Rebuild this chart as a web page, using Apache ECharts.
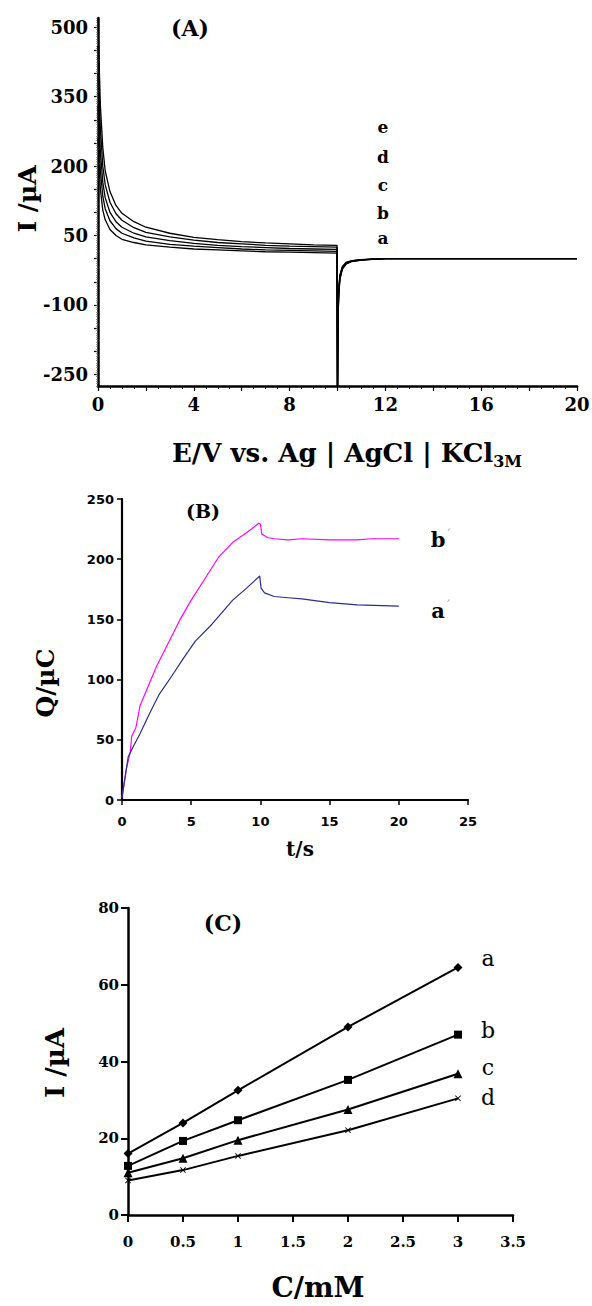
<!DOCTYPE html>
<html><head><meta charset="utf-8">
<script src="https://cdn.jsdelivr.net/npm/echarts@6/dist/echarts.min.js"></script>
<style>html,body{margin:0;padding:0;background:#fff}#c{width:592px;height:1306px}</style>
</head><body><div id="c"></div>
<script>
// ---------- Panel A : current vs time (chronoamperograms a..e) ----------
const tA = [0, 0.05, 0.1, 0.2, 0.3, 0.5, 0.75, 1, 1.5, 2, 3, 4, 5, 6, 7, 8, 9, 9.98, 10, 10.02, 10.05, 10.1, 10.2, 10.35, 10.6, 11, 11.5, 12, 16, 20];
const iA_a = [260, 200, 150, 105, 84, 63, 50, 42, 35, 30, 25, 21, 19, 17, 15, 14, 13, 12, -300, -120, -65, -35, -17, -8, -4, -2, -1, 0, 0, 0];
const iA_b = [330, 250, 190, 135, 108, 82, 65, 55, 45, 38, 31, 27, 24, 21, 19, 18, 17, 16, -300, -125, -70, -38, -19, -9, -4.5, -2.2, -1, 0, 0, 0];
const iA_c = [400, 300, 230, 165, 132, 100, 80, 68, 55, 47, 39, 33, 29, 26, 24, 22, 21, 20, -300, -130, -74, -40, -20, -10, -5, -2.5, -1, 0, 0, 0];
const iA_d = [460, 360, 280, 200, 160, 122, 97, 83, 67, 57, 47, 40, 35, 32, 29, 27, 26, 25, -300, -135, -78, -43, -22, -11, -5.5, -2.8, -1.1, 0, 0, 0];
const iA_e = [520, 420, 330, 240, 190, 145, 115, 98, 80, 68, 55, 46, 41, 37, 34, 32, 30, 29, -300, -140, -82, -45, -23, -12, -6, -3, -1.2, 0, 0, 0];
const yLabelsA = [-250, -100, 50, 200, 350, 500];
const yTicksA = [-250, -200, -150, -100, -50, 0, 50, 100, 150, 200, 250, 300, 350, 400, 450, 500];
const xLabelsA = [0, 4, 8, 12, 16, 20];
const curveNamesA = ['e', 'd', 'c', 'b', 'a'];

// ---------- Panel B : charge vs time ----------
const tB_b = [0, 0.3, 0.6, 0.7, 1.0, 1.3, 1.8, 2.5, 3.5, 4.2, 5, 6, 7, 8, 9, 9.9, 10.0, 10.1, 10.5, 11, 12, 13, 15, 17, 18, 20];
const qB_b = [2, 25, 40, 53, 60, 78, 92, 111, 134, 150, 166, 184, 202, 214, 222, 230, 229, 221, 218, 217, 216, 217, 216, 216, 217, 217];
const tB_a = [0, 0.2, 0.45, 0.8, 1.3, 2, 2.7, 3.6, 4.4, 5.3, 6.5, 8, 9, 9.95, 10.05, 10.3, 11, 12, 13, 15, 17, 20];
const qB_a = [2, 17, 36, 44, 55, 72, 88, 103, 117, 132, 146, 166, 176, 186, 176, 172, 169, 168, 167, 164, 162, 161];

// ---------- Panel C : calibration lines ----------
const cC = [0, 0.5, 1, 2, 3];
const iC_a = [16, 24, 32.5, 49, 64.5];
const iC_b = [12.8, 19.3, 24.7, 35.2, 47];
const iC_c = [11, 14.8, 19.5, 27.5, 36.8];
const iC_d = [9, 11.7, 15.4, 22.1, 30.4];

const zip = (xs, ys) => xs.map((x, i) => [x, ys[i]]);
const SERIF = 'DejaVu Serif';
const SANS = 'DejaVu Sans';
const black = '#000';

const chart = echarts.init(document.getElementById('c'), null, {renderer: 'svg', width: 592, height: 1306});

function txt(x, y, text, font, opts) {
  opts = opts || {};
  return {
    type: 'text', x: x, y: y, rotation: opts.rotation || 0, silent: true,
    style: {
      text: text, x: 0, y: 0, font: font, fill: opts.fill || black,
      textAlign: 'center', textVerticalAlign: 'middle', align: 'center', verticalAlign: 'middle',
      rich: opts.rich
    }
  };
}

const lineA = (vals) => ({
  type: 'line', xAxisIndex: 0, yAxisIndex: 0, data: zip(tA, vals),
  showSymbol: false, symbol: 'none', smooth: false, animation: false, silent: true,
  lineStyle: {color: black, width: 1.3}
});

const markerX = 'path://M0,1 L1,0 L5,4 L9,0 L10,1 L6,5 L10,9 L9,10 L5,6 L1,10 L0,9 L4,5 Z';
const lineC = (vals, sym, size) => ({
  type: 'line', xAxisIndex: 2, yAxisIndex: 3, data: zip(cC, vals),
  symbol: sym, symbolSize: size, showSymbol: true, animation: false, silent: true,
  itemStyle: {color: black}, lineStyle: {color: black, width: 2}
});

const option = {
  backgroundColor: '#fff',
  animation: false,
  grid: [
    {left: 98, right: 15, top: 18, bottom: 920, outerBoundsMode: 'none'},
    {left: 122, right: 124, top: 499, bottom: 506, outerBoundsMode: 'none'},
    {left: 128, right: 79, top: 908, bottom: 91, outerBoundsMode: 'none'}
  ],
  xAxis: [
    {
      gridIndex: 0, type: 'value', min: 0, max: 20, interval: 2,
      axisLine: {show: true, onZero: false, lineStyle: {color: black, width: 2.5}},
      axisTick: {show: true, inside: false, length: 5, lineStyle: {color: black, width: 1.2}},
      minorTick: {show: true, splitNumber: 4, length: 3, lineStyle: {color: black, width: 1}},
      axisLabel: {
        margin: 9, color: black, fontFamily: SERIF, fontWeight: 'bold', fontSize: 18,
        formatter: v => (xLabelsA.indexOf(v) >= 0 ? String(v) : '')
      },
      splitLine: {show: false}, minorSplitLine: {show: false}
    },
    {
      gridIndex: 1, type: 'value', min: 0, max: 25, interval: 5,
      axisLine: {show: true, onZero: false, lineStyle: {color: black, width: 2.2}},
      axisTick: {show: true, inside: false, length: 5, lineStyle: {color: black, width: 1.5}},
      axisLabel: {margin: 15, color: black, fontFamily: SANS, fontWeight: 'bold', fontSize: 13},
      splitLine: {show: false}
    },
    {
      gridIndex: 2, type: 'value', min: 0, max: 3.5, interval: 0.5,
      axisLine: {show: true, onZero: false, lineStyle: {color: black, width: 2.5}},
      axisTick: {show: true, inside: false, length: 7, lineStyle: {color: black, width: 2}},
      axisLabel: {margin: 19, color: black, fontFamily: SERIF, fontWeight: 'bold', fontSize: 15},
      splitLine: {show: false}
    }
  ],
  yAxis: [
    {
      gridIndex: 0, type: 'value', min: -275, max: 520, position: 'left',
      axisLine: {show: true, onZero: false, lineStyle: {color: black, width: 2.5}},
      axisTick: {show: true, inside: false, length: 4, customValues: yTicksA, lineStyle: {color: black, width: 1.2}},
      axisLabel: {margin: 10, customValues: yLabelsA, color: black, fontFamily: SERIF, fontWeight: 'bold', fontSize: 18},
      splitLine: {show: false}
    },
    {
      gridIndex: 0, type: 'value', min: -275, max: 520, interval: 5, position: 'left', offset: 0,
      axisLine: {show: false},
      axisTick: {show: true, inside: false, length: 2, lineStyle: {color: '#777', width: 0.7}},
      axisLabel: {show: false},
      splitLine: {show: false}
    },
    {
      gridIndex: 1, type: 'value', min: 0, max: 250, interval: 50,
      axisLine: {show: true, onZero: false, lineStyle: {color: black, width: 2.2}},
      axisTick: {show: true, inside: false, length: 5, lineStyle: {color: black, width: 1.5}},
      axisLabel: {margin: 8, color: black, fontFamily: SANS, fontWeight: 'bold', fontSize: 13},
      splitLine: {show: false}
    },
    {
      gridIndex: 2, type: 'value', min: 0, max: 80, interval: 20,
      axisLine: {show: true, onZero: false, lineStyle: {color: black, width: 2.5}},
      axisTick: {show: true, inside: false, length: 7, lineStyle: {color: black, width: 2}},
      axisLabel: {margin: 9, color: black, fontFamily: SERIF, fontWeight: 'bold', fontSize: 15},
      splitLine: {show: false}
    }
  ],
  series: [
    lineA(iA_a), lineA(iA_b), lineA(iA_c), lineA(iA_d), lineA(iA_e),
    {
      type: 'line', xAxisIndex: 1, yAxisIndex: 2, data: zip(tB_b, qB_b),
      showSymbol: false, symbol: 'none', animation: false, silent: true,
      lineStyle: {color: '#FF00FF', width: 1.2}
    },
    {
      type: 'line', xAxisIndex: 1, yAxisIndex: 2, data: zip(tB_a, qB_a),
      showSymbol: false, symbol: 'none', animation: false, silent: true,
      lineStyle: {color: '#2B2B96', width: 1.2}
    },
    lineC(iC_a, 'diamond', 9),
    lineC(iC_b, 'rect', 8),
    lineC(iC_c, 'triangle', 9),
    lineC(iC_d, markerX, 6)
  ],
  graphic: [
    // Panel A
    txt(190, 28, '(A)', 'bold 22px "' + SERIF + '"'),
    txt(383, 127, curveNamesA[0], 'bold 17px "' + SERIF + '"'),
    txt(383, 157, curveNamesA[1], 'bold 17px "' + SERIF + '"'),
    txt(383, 185, curveNamesA[2], 'bold 17px "' + SERIF + '"'),
    txt(383, 213, curveNamesA[3], 'bold 17px "' + SERIF + '"'),
    txt(383, 238, curveNamesA[4], 'bold 17px "' + SERIF + '"'),
    txt(27, 199, 'I /µA', 'bold 25px "' + SERIF + '"', {rotation: Math.PI / 2}),
    txt(347, 453, '{m|E/V vs. Ag | AgCl | KCl}{s|3M}', 'bold 26px "' + SERIF + '"', {
      rich: {
        m: {fontFamily: SERIF, fontWeight: 'bold', fontSize: 26, lineHeight: 32, verticalAlign: 'middle', fill: black, color: black},
        s: {fontFamily: SERIF, fontWeight: 'bold', fontSize: 16, lineHeight: 16, verticalAlign: 'bottom', fill: black, color: black}
      }
    }),
    // Panel B
    txt(203, 511, '(B)', 'bold 19px "' + SERIF + '"'),
    txt(441, 539, '{m|b}{p|´}', 'bold 21px "' + SERIF + '"', {
      rich: {
        m: {fontFamily: SERIF, fontWeight: 'bold', fontSize: 21, fill: black, color: black},
        p: {fontFamily: SERIF, fontSize: 12, fill: '#999', color: '#999', verticalAlign: 'top'}
      }
    }),
    txt(441, 610, '{m|a}{p|´}', 'bold 21px "' + SERIF + '"', {
      rich: {
        m: {fontFamily: SERIF, fontWeight: 'bold', fontSize: 21, fill: black, color: black},
        p: {fontFamily: SERIF, fontSize: 12, fill: '#999', color: '#999', verticalAlign: 'top'}
      }
    }),
    txt(45, 683, 'Q/µC', 'bold 25px "' + SERIF + '"', {rotation: Math.PI / 2}),
    txt(300, 849, 't/s', 'bold 20px "' + SERIF + '"'),
    // Panel C
    txt(223, 923, '(C)', 'bold 22px "' + SERIF + '"'),
    txt(488, 958, 'a', '22px "' + SERIF + '"'),
    txt(488, 1030, 'b', '22px "' + SERIF + '"'),
    txt(488, 1067, 'c', '22px "' + SERIF + '"'),
    txt(488, 1097, 'd', '22px "' + SERIF + '"'),
    txt(55, 1063, 'I /µA', 'bold 26px "' + SERIF + '"', {rotation: Math.PI / 2}),
    txt(318, 1287, 'C/mM', 'bold 28px "' + SERIF + '"')
  ]
};
chart.setOption(option);
</script>
</body></html>
